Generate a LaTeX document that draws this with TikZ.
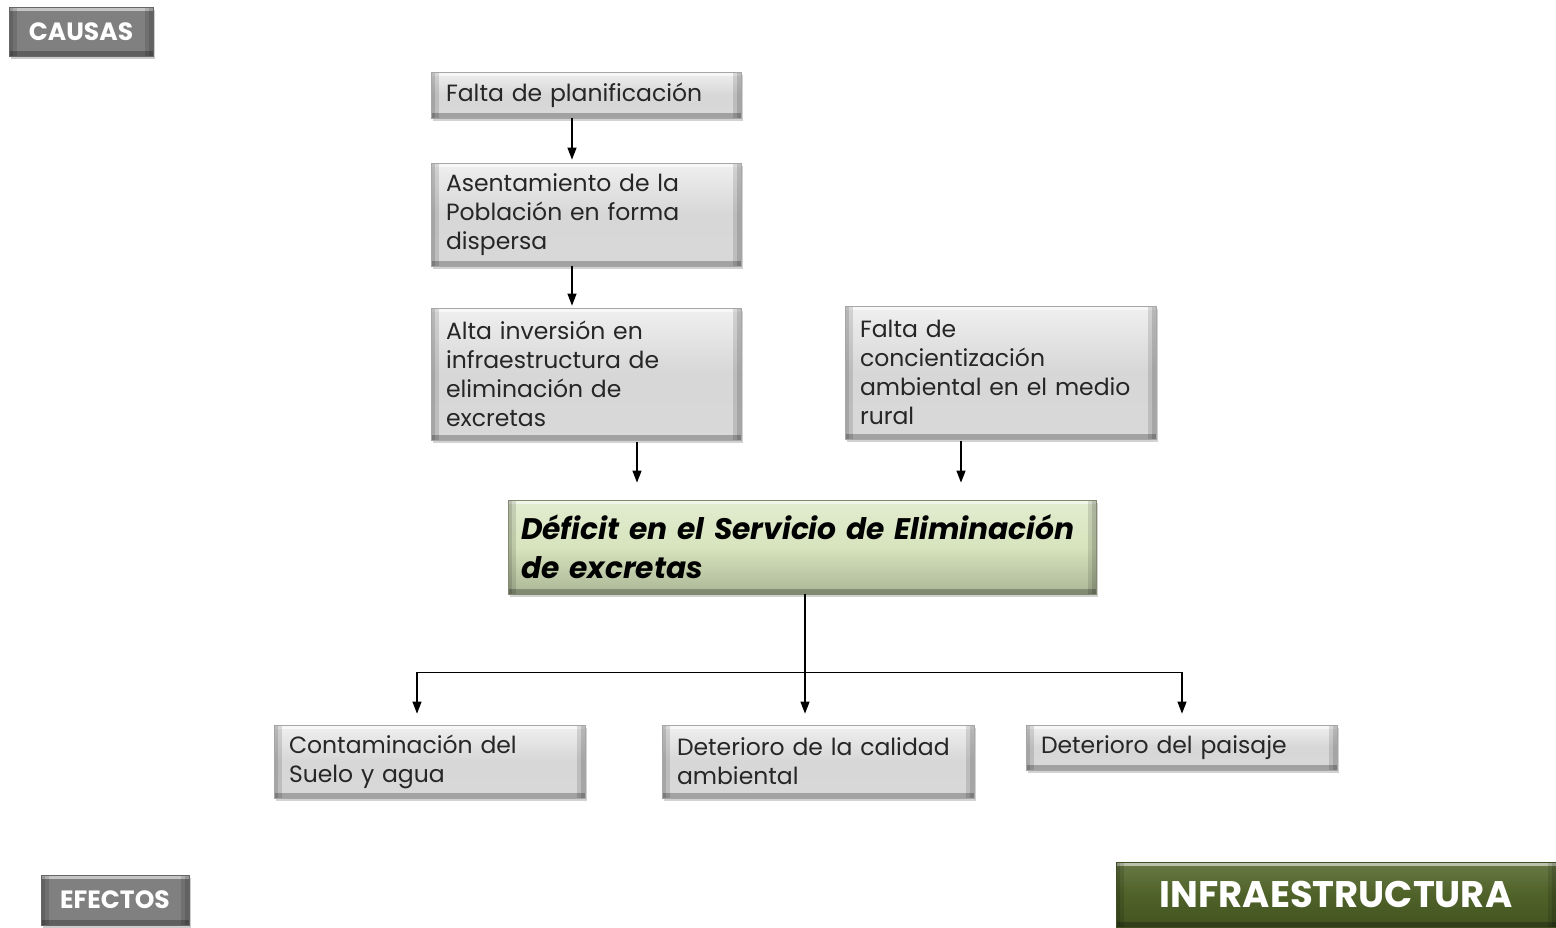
\documentclass[tikz,border=0pt]{standalone}
\usepackage{fontspec}
\setmainfont{Poppins}
\usetikzlibrary{shadows,arrows.meta,calc}
\definecolor{boxgray}{HTML}{D2D2D2}
\definecolor{labgray}{HTML}{808080}
\definecolor{mainfill}{HTML}{D7E4BD}
\definecolor{infra}{HTML}{4F6228}
\tikzset{
  bevel/.style={path picture={
    \fill[white,opacity=0.55] (path picture bounding box.north west) rectangle ([yshift=-4pt]path picture bounding box.north east);
    \fill[black,opacity=0.12] (path picture bounding box.north west) rectangle ([xshift=8pt]path picture bounding box.south west);
    \fill[black,opacity=0.12] (path picture bounding box.north west) rectangle ([xshift=4pt]path picture bounding box.south west);
    \fill[black,opacity=0.12] (path picture bounding box.north east) rectangle ([xshift=-8pt]path picture bounding box.south east);
    \fill[black,opacity=0.12] (path picture bounding box.north east) rectangle ([xshift=-4pt]path picture bounding box.south east);
    \fill[black,opacity=0.25] (path picture bounding box.south west) rectangle ([yshift=5pt]path picture bounding box.south east);
  }},
  gbox/.style={rectangle, bevel, top color=gray!12, bottom color=gray!30, middle color=boxgray!90,
    draw=gray!70, line width=0.8pt, drop shadow={shadow xshift=2pt,shadow yshift=-3pt,opacity=0.35},
    inner xsep=15pt, inner ysep=0pt, align=left, font=\fontsize{23.5}{29}\selectfont, text=black!85},
  greenbox/.style={rectangle, bevel, top color=mainfill!70!white, bottom color=mainfill!80!black, middle color=mainfill,
    draw=mainfill!60!black, line width=0.8pt, drop shadow={shadow xshift=2pt,shadow yshift=-3pt,opacity=0.35},
    inner xsep=13pt, inner ysep=0pt, align=left, font=\fontsize{29.7}{39}\selectfont\bfseries\itshape},
  labbox/.style={rectangle, bevel, fill=labgray, draw=gray!80!black, line width=0.6pt,
    drop shadow={shadow xshift=2pt,shadow yshift=-3pt,opacity=0.4},
    text=white, font=\fontsize{25}{28}\selectfont\bfseries, inner sep=0pt},
  infrabox/.style={rectangle, bevel, top color=infra!85!white, bottom color=infra!85!black, middle color=infra,
    draw=infra!80!black, line width=0.6pt, text=white, font=\fontsize{37}{42}\selectfont\bfseries, inner sep=0pt},
  arr/.style={line width=1.3pt, -{Triangle[length=12pt,width=9pt]}},
  ln/.style={line width=1.3pt}
}
\begin{document}
\begin{tikzpicture}[x=1pt,y=-1pt]
\useasboundingbox[fill=white] (0,0) rectangle (1556,927);

\node[labbox, minimum width=144, minimum height=49] (causas) at (81,31.5) {CAUSAS};
\node[labbox, minimum width=148, minimum height=50] (efectos) at (115,900) {EFECTOS};
\node[infrabox, minimum width=440, minimum height=65] (infra) at (1336,894.5) {INFRAESTRUCTURA};

\node[gbox, minimum width=310, minimum height=46, text width=280] (n1) at (586,95) {Falta de planificación};
\node[gbox, minimum width=310, minimum height=103, text width=280] (n2) at (586,214.5) {Asentamiento de la\\Población en forma\\dispersa};
\node[gbox, minimum width=310, minimum height=132, text width=280] (n3) at (586,374) {Alta inversión en\\infraestructura de\\eliminación de\\excretas};
\node[gbox, minimum width=311, minimum height=133, text width=281] (n4) at (1000.5,372.5) {Falta de\\concientización\\ambiental en el medio\\rural};

\node[greenbox, minimum width=588, minimum height=94, text width=562] (g) at (802,547) {Déficit en el Servicio de Eliminación\\de excretas};

\node[gbox, minimum width=311, minimum height=73, text width=281] (e1) at (429.5,761.5) {Contaminación del\\Suelo y agua};
\node[gbox, minimum width=312, minimum height=73, text width=282] (e2) at (818,761.5) {Deterioro de la calidad\\ambiental};
\node[gbox, minimum width=311, minimum height=45, text width=281] (e3) at (1181.5,747.5) {Deterioro del paisaje};

\draw[arr] ([xshift=-14pt]n1.south) -- ([xshift=-14pt,yshift=3pt]n2.north);
\draw[arr] ([xshift=-14pt]n2.south) -- ([xshift=-14pt,yshift=2pt]n3.north);
\draw[arr] ([xshift=51pt,yshift=-2pt]n3.south) -- ([xshift=-165pt,yshift=17pt]g.north);
\draw[arr] ([xshift=-39.5pt,yshift=-2pt]n4.south) -- ([xshift=159pt,yshift=17pt]g.north);

\coordinate (j) at ([xshift=3pt,yshift=-78pt]g.south);
\draw[arr] ([xshift=3pt]g.south) -- ([xshift=-13pt,yshift=11pt]e2.north);
\draw[arr] (j) -| ([xshift=-12.5pt,yshift=11pt]e1.north);
\draw[arr] (j) -| ([xshift=0.5pt,yshift=11pt]e3.north);
\end{tikzpicture}
\end{document}
